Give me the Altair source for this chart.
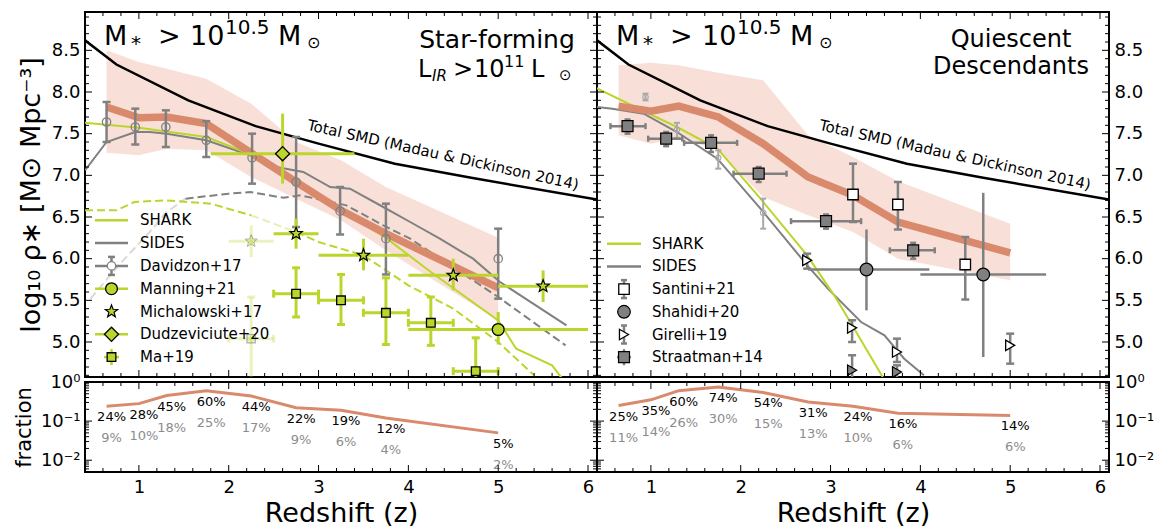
import altair as alt
import numpy as np
import pandas as pd

# ------------------------------------------------------------------ data
# Total stellar mass density (Madau & Dickinson 2014)
smd_z = [0.4, 0.75, 1.55, 2.3, 3.0, 3.85, 4.7, 6.1]
smd_v = [8.62, 8.33, 7.90, 7.59, 7.38, 7.14, 6.97, 6.71]

bin_z = [0.64, 1.0, 1.31, 1.75, 2.25, 2.75, 3.25, 3.75, 5.0]

# star-forming: SMD track and its band
sf_v = [7.82, 7.69, 7.70, 7.62, 7.27, 6.92, 6.58, 6.30, 5.65]
sf_lo = [7.27, 7.24, 7.32, 7.30, 6.98, 6.72, 6.46, 6.10, 5.26]
sf_hi = [8.50, 8.36, 8.28, 8.16, 7.86, 7.40, 7.18, 6.86, 6.25]
# quiescent descendants: SMD track and band
q_v = [7.83, 7.77, 7.83, 7.70, 7.38, 6.98, 6.76, 6.44, 6.07]
q_lo = [7.48, 7.38, 7.45, 7.30, 6.74, 6.52, 6.32, 6.00, 5.74]
q_hi = [8.32, 8.35, 8.32, 8.23, 8.14, 7.48, 7.22, 6.93, 6.42]

# models, left panel
shark_sf_z = [0.4, 1.0, 1.75, 2.25, 2.75, 3.25, 3.75, 4.25, 5.0, 5.2, 5.6, 5.72]
shark_sf_v = [7.63, 7.57, 7.46, 7.25, 6.92, 6.58, 6.25, 5.84, 5.26, 4.92, 4.72, 4.55]
sides_sf_z = [0.4, 0.64, 0.96, 1.12, 1.31, 1.75, 2.24, 2.53, 2.83, 3.13, 3.35, 3.72, 4.02,
              4.35, 4.72, 5.02, 5.76]
sides_sf_v = [7.06, 7.40, 7.52, 7.52, 7.50, 7.42, 7.24, 7.10, 7.04, 6.86, 6.84, 6.62, 6.44,
              6.24, 6.00, 5.72, 5.20]
sides_d_z = [0.46, 0.8, 1.12, 1.3, 1.52, 2.0, 2.24, 2.61, 2.8, 3.31, 3.72, 4.02, 5.0, 5.75]
sides_d_v = [5.52, 5.95, 6.32, 6.55, 6.72, 6.78, 6.80, 6.73, 6.76, 6.64, 6.40, 6.24, 5.54, 4.96]
shark_d_z = [0.4, 0.75, 0.95, 1.3, 1.8, 2.25, 2.75, 3.0, 3.5, 4.0, 4.5, 5.0, 5.4]
shark_d_v = [6.58, 6.58, 6.68, 6.70, 6.66, 6.52, 6.32, 6.20, 6.04, 5.68, 5.40, 5.00, 4.60]

# models, right panel
shark_q_z = [0.39, 0.94, 1.29, 1.74, 2.22, 2.74, 3.04, 3.22, 3.58]
shark_q_v = [8.05, 7.76, 7.58, 7.32, 6.72, 6.04, 5.56, 5.24, 4.58]
sides_q_z = [0.4, 0.57, 0.92, 1.29, 1.74, 2.22, 2.74, 2.97, 3.34, 3.6, 3.82, 4.04]
sides_q_v = [7.82, 7.80, 7.74, 7.52, 7.20, 6.60, 5.92, 5.64, 5.24, 5.08, 4.80, 4.60]

# observations, left panel
dav_z = [0.64, 0.96, 1.30, 1.75, 2.26, 2.75, 3.24, 3.75, 5.0]
dav_v = [7.64, 7.58, 7.58, 7.42, 7.21, 6.92, 6.57, 6.24, 6.00]
dav_lo = [7.40, 7.37, 7.34, 7.22, 6.90, 6.38, 6.29, 5.81, 5.52]
dav_hi = [7.88, 7.80, 7.78, 7.65, 7.50, 7.46, 6.86, 6.66, 6.36]

man_z, man_v = [5.0], [5.15]
man_zlo, man_zhi = [4.0], [6.0]
man_lo, man_hi = [4.97], [5.36]

mic_z = [2.75, 3.5, 4.5, 5.5]
mic_v = [6.30, 6.04, 5.80, 5.67]
mic_zlo = [2.5, 3.0, 4.0, 5.0]
mic_zhi = [3.0, 4.0, 5.0, 6.0]
mic_lo = [6.12, 5.86, 5.62, 5.48]
mic_hi = [6.48, 6.24, 6.00, 5.86]
mic_faint = dict(z=[2.25], v=[6.21], zlo=[2.0], zhi=[2.5], lo=[6.02], hi=[6.40])

dud_z, dud_v = [2.6], [7.26]
dud_zlo, dud_zhi = [1.8], [3.4]
dud_lo, dud_hi = [6.90], [7.74]

ma_z = [2.75, 3.25, 3.75, 4.25, 4.75]
ma_v = [5.58, 5.50, 5.35, 5.23, 4.65]
ma_zlo = [2.5, 3.0, 3.5, 4.0, 4.5]
ma_zhi = [3.0, 3.5, 4.0, 4.5, 5.0]
ma_lo = [5.30, 5.21, 4.97, 4.96, 4.40]
ma_hi = [5.89, 5.81, 5.77, 5.54, 5.05]
ma_faint = dict(z=[2.25], v=[5.04], zlo=[2.0], zhi=[2.5], lo=[4.40], hi=[5.54])

# observations, right panel
davq_z = [0.94, 1.29, 1.75, 2.25]
davq_v = [7.94, 7.55, 7.21, 6.55]
davq_lo = [7.90, 7.45, 7.08, 6.36]
davq_hi = [7.98, 7.63, 7.30, 6.72]

san_z = [3.25, 3.75, 4.5]
san_v = [6.77, 6.65, 5.93]
san_lo = [6.44, 6.35, 5.51]
san_hi = [7.14, 6.92, 6.26]

sha_z = [3.4, 4.7]
sha_v = [5.87, 5.81]
sha_zlo = [2.75, 4.0]
sha_zhi = [4.1, 5.4]
sha_lo = [5.38, 4.82]
sha_hi = [6.35, 6.79]

gir_z = [2.74, 3.24, 3.74, 5.0]
gir_v = [5.98, 5.17, 4.88, 4.96]
gir_lo = [5.88, 5.00, 4.76, 4.74]
gir_hi = [6.06, 5.26, 5.04, 5.10]
gir2_z = [3.24, 3.74]
gir2_v = [4.66, 4.64]
gir2_lo = [4.50, 4.50]
gir2_hi = [4.84, 4.72]

str_z = [0.74, 1.17, 1.67, 2.20, 2.95, 3.92]
str_v = [7.59, 7.44, 7.39, 7.02, 6.45, 6.10]
str_zlo = [0.55, 0.97, 1.37, 1.92, 2.56, 3.66]
str_zhi = [0.94, 1.35, 1.96, 2.51, 3.34, 4.16]
str_lo = [7.50, 7.35, 7.28, 6.92, 6.36, 6.00]
str_hi = [7.67, 7.52, 7.48, 7.10, 6.53, 6.19]

# fractions (percent)
sf_pct = [24, 28, 45, 60, 44, 22, 19, 12, 5]
sf_pct2 = [9, 10, 18, 25, 17, 9, 6, 4, 2]
q_pct = [25, 35, 60, 74, 54, 31, 24, 16, 14]
q_pct2 = [11, 14, 26, 30, 15, 13, 10, 6, 6]

legend_left = ["SHARK", "SIDES", "Davidzon+17", "Manning+21", "Michalowski+17",
               "Dudzeviciute+20", "Ma+19"]
legend_right = ["SHARK", "SIDES", "Santini+21", "Shahidi+20", "Girelli+19", "Straatman+14"]

x_ticks = [1, 2, 3, 4, 5, 6]
y_ticks = [5.0, 5.5, 6.0, 6.5, 7.0, 7.5, 8.0, 8.5]
f_ticks = [0.01, 0.1, 1.0]

# ------------------------------------------------------------------ style
FONT = "DejaVu Sans"
GREEN = "#bcd52c"
GRAY = "#808080"
LGRAY = "#a8a8a8"
ORANGE = "#d98a6c"
BAND = "#eba088"
W, H, HB = 512, 365, 90
XS = alt.Scale(domain=[0.4, 6.1], nice=False, zero=False)
YS = alt.Scale(domain=[4.58, 8.96], nice=False, zero=False)
FS = alt.Scale(type="log", domain=[0.005, 1.0], nice=False)
ONE = pd.DataFrame({"a": [0]})


def star_path():
    pts = []
    for k in range(10):
        r = 1.0 if k % 2 == 0 else 0.42
        a = np.deg2rad(-90 + 36 * k)
        pts.append(f"{r * np.cos(a):.3f},{r * np.sin(a):.3f}")
    return "M" + " L".join(pts) + " Z"


STAR = star_path()


def X(f="z"):
    return alt.X(f"{f}:Q", scale=XS, axis=None)


def Y(f="v", s=YS):
    return alt.Y(f"{f}:Q", scale=s, axis=None)


def line(z, v, color, sw=2.0, dash=None, opacity=1.0):
    kw = dict(color=color, strokeWidth=sw, opacity=opacity, clip=True)
    if dash:
        kw["strokeDash"] = dash
    return alt.Chart(pd.DataFrame({"z": z, "v": v})).mark_line(**kw).encode(x=X(), y=Y())


def band(z, lo, hi):
    return alt.Chart(pd.DataFrame({"z": z, "lo": lo, "hi": hi})).mark_area(
        color=BAND, opacity=0.33, clip=True).encode(x=X(), y=Y("lo"), y2="hi:Q")


def yerr(df, color, sw=2.5, cap=0, opacity=1.0):
    out = [alt.Chart(df).mark_rule(color=color, strokeWidth=sw, opacity=opacity, clip=True)
           .encode(x=X(), y=Y("lo"), y2="hi:Q")]
    if cap:
        for f in ("lo", "hi"):
            out.append(alt.Chart(df).mark_tick(color=color, orient="horizontal", size=cap,
                                               thickness=sw, opacity=opacity, clip=True)
                       .encode(x=X(), y=Y(f)))
    return out


def xerr(df, color, sw=2.5, cap=0, opacity=1.0):
    out = [alt.Chart(df).mark_rule(color=color, strokeWidth=sw, opacity=opacity, clip=True)
           .encode(x=X("zlo"), x2="zhi:Q", y=Y())]
    if cap:
        for f in ("zlo", "zhi"):
            out.append(alt.Chart(df).mark_tick(color=color, orient="vertical", size=cap,
                                               thickness=sw, opacity=opacity, clip=True)
                       .encode(x=X(f), y=Y()))
    return out


def pts(df, shape, size, fill, stroke, sw=1.2, opacity=1.0):
    return alt.Chart(df).mark_point(shape=shape, size=size, fill=fill, stroke=stroke,
                                    strokeWidth=sw, opacity=opacity, filled=True,
                                    clip=True).encode(x=X(), y=Y())


def ticks(ys, ymaj, ymin, h):
    xmin = [round(0.4 + 0.2 * i, 2) for i in range(1, 29) if abs((0.4 + 0.2 * i) % 1) > 1e-6
            and abs((0.4 + 0.2 * i) % 1 - 1) > 1e-6]
    out = []
    for vals, ln in ((x_ticks, 7), (xmin, 4)):
        b = alt.Chart(pd.DataFrame({"t": vals})).mark_rule(color="black", strokeWidth=1)
        out.append(b.encode(x=X("t"), y=alt.value(h), y2=alt.value(h - ln)))
        out.append(b.encode(x=X("t"), y=alt.value(0), y2=alt.value(ln)))
    for vals, ln in ((ymaj, 7), (ymin, 4)):
        b = alt.Chart(pd.DataFrame({"t": vals})).mark_rule(color="black", strokeWidth=1)
        out.append(b.encode(y=Y("t", ys), x=alt.value(0), x2=alt.value(ln)))
        out.append(b.encode(y=Y("t", ys), x=alt.value(W), x2=alt.value(W - ln)))
    return out


def txt(x, y, s, size, color="black", align="left", baseline="alphabetic", angle=0, italic=False):
    kw = dict(text=s, fontSize=size, font=FONT, color=color, align=align, baseline=baseline)
    if angle:
        kw["angle"] = angle
    if italic:
        kw["fontStyle"] = "italic"
    return alt.Chart(ONE).mark_text(**kw).encode(x=alt.value(x), y=alt.value(y))


def vpt(x, y, shape, size, fill, stroke, sw=1.2):
    return alt.Chart(ONE).mark_point(shape=shape, size=size, fill=fill, stroke=stroke,
                                     strokeWidth=sw, opacity=1, filled=True).encode(
        x=alt.value(x), y=alt.value(y))


def seg(x1, x2, y1, y2, color, sw):
    return alt.Chart(ONE).mark_rule(color=color, strokeWidth=sw).encode(
        x=alt.value(x1), x2=alt.value(x2), y=alt.value(y1), y2=alt.value(y2))


def mass_title():
    return [txt(19, 33, "M", 27), txt(46, 38, "*", 20), txt(73, 33, ">", 27),
            txt(105, 33, "10", 27), txt(140, 21.5, "10.5", 20), txt(193, 33, "M", 27),
            txt(222, 36, "⊙", 16)]


def smd_label():
    return txt(358, 143, "Total SMD (Madau & Dickinson 2014)", 15, align="center",
               baseline="middle", angle=12.5)


def panel(layers, h):
    return alt.layer(*layers).resolve_axis(x="independent", y="independent").properties(
        width=W, height=h)


ymin_top = [round(4.6 + 0.1 * i, 1) for i in range(0, 44)]
ymin_top = [v for v in ymin_top if abs(v * 2 - round(v * 2)) > 1e-6]
fmin = [m * 10.0 ** e for e in (-3, -2, -1) for m in range(2, 10) if m * 10.0 ** e >= 0.005]

# ------------------------------------------------------------------ top-left
df = lambda **k: pd.DataFrame(k)
ax_TL = alt.Chart(df(z=[1.0], v=[6.0])).mark_point(opacity=0).encode(
    x=X(),
    y=alt.Y("v:Q", scale=YS, axis=alt.Axis(
        values=y_ticks, format=".1f", ticks=False, domain=False, grid=False,
        labelFontSize=18, labelPadding=5, labelColor="black", labelFont=FONT,
        title="log₁₀ ρ∗ [M⊙ Mpc⁻³]", titleFontSize=27, titlePadding=6,
        titleFontWeight="normal", titleColor="black", titleFont=FONT)))

dav = df(z=dav_z, v=dav_v, lo=dav_lo, hi=dav_hi)
man = df(z=man_z, v=man_v, zlo=man_zlo, zhi=man_zhi, lo=man_lo, hi=man_hi)
mic = df(z=mic_z, v=mic_v, zlo=mic_zlo, zhi=mic_zhi, lo=mic_lo, hi=mic_hi)
micf = pd.DataFrame(mic_faint)
dud = df(z=dud_z, v=dud_v, zlo=dud_zlo, zhi=dud_zhi, lo=dud_lo, hi=dud_hi)
ma = df(z=ma_z, v=ma_v, zlo=ma_zlo, zhi=ma_zhi, lo=ma_lo, hi=ma_hi)
maf = pd.DataFrame(ma_faint)

L = [ax_TL, band(bin_z, sf_lo, sf_hi), line(smd_z, smd_v, "black", 2.5), smd_label(),
     line(sides_d_z[:5], sides_d_v[:5], GRAY, 2, [8, 4], 0.3),
     line(sides_d_z[4:], sides_d_v[4:], GRAY, 2, [8, 4]),
     line(shark_d_z[:6], shark_d_v[:6], GREEN, 2, [8, 4]),
     line(shark_d_z[5:7], shark_d_v[5:7], GREEN, 2, [8, 4], 0.35),
     line(shark_d_z[6:], shark_d_v[6:], GREEN, 2, [8, 4]),
     line(sides_sf_z, sides_sf_v, GRAY, 2), line(shark_sf_z, shark_sf_v, GREEN, 2),
     line(bin_z, sf_v, ORANGE, 7.5)]
L += yerr(micf, GREEN, 3, 0, 0.3) + xerr(micf, GREEN, 3, 0, 0.3)
L += [pts(micf, STAR, 170, GREEN, "black", 1, 0.3)]
L += yerr(maf, GREEN, 3, 8, 0.3) + xerr(maf, GREEN, 3, 8, 0.3)
L += [pts(maf, "square", 70, GREEN, "black", 1.2, 0.3)]
L += yerr(dav, GRAY, 2.5, 8) + [pts(dav, "circle", 70, "transparent", GRAY, 1.3)]
L += xerr(ma, GREEN, 3, 8) + yerr(ma, GREEN, 3, 8) + [pts(ma, "square", 75, GREEN, "black", 1.3)]
L += xerr(mic, GREEN, 3) + yerr(mic, GREEN, 3) + [pts(mic, STAR, 170, GREEN, "black", 1.2)]
L += xerr(man, GREEN, 3) + yerr(man, GREEN, 3) + [pts(man, "circle", 140, GREEN, "black", 1.3)]
L += xerr(dud, GREEN, 3) + yerr(dud, GREEN, 3) + [pts(dud, "diamond", 200, GREEN, "black", 1.3)]
L += mass_title()
L += [txt(412, 36, "Star-forming", 25, align="center"),
      txt(333, 65, "L", 24), txt(347, 68.5, "IR", 15, italic=True), txt(368, 65, ">", 24),
      txt(389, 65, "10", 24), txt(419, 55, "11", 16), txt(446, 65, "L", 24),
      txt(474, 68, "⊙", 15)]
# legend (left)
rows = [208.3 + 22.8 * i for i in range(len(legend_left))]
L += [seg(10, 43, rows[0], rows[0], GREEN, 2.5), seg(10, 43, rows[1], rows[1], GRAY, 2.5),
      seg(10, 43, rows[2], rows[2], GRAY, 2.5), seg(26.5, 26.5, rows[2] - 9, rows[2] + 9, GRAY, 2.5),
      seg(23, 30, rows[2] - 9, rows[2] - 9, GRAY, 2.5), seg(23, 30, rows[2] + 9, rows[2] + 9, GRAY, 2.5),
      vpt(26.5, rows[2], "circle", 70, "white", GRAY, 1.3),
      seg(10, 43, rows[3], rows[3], GREEN, 2.5), vpt(26.5, rows[3], "circle", 140, GREEN, "black", 1.3),
      vpt(26.5, rows[4], STAR, 170, GREEN, "black", 1.2),
      seg(10, 43, rows[5], rows[5], GREEN, 2.5), vpt(26.5, rows[5], "diamond", 200, GREEN, "black", 1.3),
      seg(26.5, 26.5, rows[6] - 8, rows[6] + 8, GREEN, 2.5), seg(19, 34, rows[6], rows[6], GREEN, 2.5),
      vpt(26.5, rows[6], "square", 75, GREEN, "black", 1.3)]
L += [txt(55, r, s, 15, baseline="middle") for r, s in zip(rows, legend_left)]
L += ticks(YS, y_ticks, ymin_top, H)
TL = panel(L, H)

# ------------------------------------------------------------------ top-right
ax_TR = alt.Chart(df(z=[1.0], v=[6.0])).mark_point(opacity=0).encode(
    x=X(),
    y=alt.Y("v:Q", scale=YS, axis=alt.Axis(
        orient="right", values=y_ticks, format=".1f", ticks=False, domain=False, grid=False,
        labelFontSize=18, labelPadding=5, labelColor="black", labelFont=FONT, title=None)))

davq = df(z=davq_z, v=davq_v, lo=davq_lo, hi=davq_hi)
san = df(z=san_z, v=san_v, lo=san_lo, hi=san_hi)
sha = df(z=sha_z, v=sha_v, zlo=sha_zlo, zhi=sha_zhi, lo=sha_lo, hi=sha_hi)
gir = df(z=gir_z, v=gir_v, lo=gir_lo, hi=gir_hi)
gir2 = df(z=gir2_z, v=gir2_v, lo=gir2_lo, hi=gir2_hi)
stra = df(z=str_z, v=str_v, zlo=str_zlo, zhi=str_zhi, lo=str_lo, hi=str_hi)

R = [ax_TR, band(bin_z, q_lo, q_hi), line(smd_z, smd_v, "black", 2.5), smd_label(),
     line(sides_q_z, sides_q_v, GRAY, 2), line(shark_q_z, shark_q_v, GREEN, 2),
     line(bin_z, q_v, ORANGE, 7.5)]
R += yerr(davq, LGRAY, 2, 6) + [pts(davq, "circle", 30, "transparent", LGRAY, 1.2)]
R += xerr(stra, GRAY, 2.5, 6) + yerr(stra, GRAY, 2.5, 6) + [pts(stra, "square", 120, GRAY, "black", 1.2)]
R += yerr(san, GRAY, 2.5, 8) + [pts(san, "square", 110, "white", "black", 1.3)]
R += xerr(sha, GRAY, 2.5) + yerr(sha, GRAY, 2.5) + [pts(sha, "circle", 160, GRAY, "black", 1.2)]
R += yerr(gir, GRAY, 2.5, 8) + [pts(gir, "triangle-right", 110, "white", "black", 1.3)]
R += yerr(gir2, GRAY, 2.5, 8) + [pts(gir2, "triangle-right", 110, GRAY, "black", 1.2)]
R += mass_title()
R += [txt(414, 35, "Quiescent", 24, align="center"),
      txt(414, 62, "Descendants", 24, align="center")]
rows = [231.7 + 22.7 * i for i in range(len(legend_right))]
R += [seg(10, 44, rows[0], rows[0], GREEN, 2.5), seg(10, 44, rows[1], rows[1], GRAY, 2.5),
      seg(27, 27, rows[2] - 9, rows[2] + 9, GRAY, 2.5),
      seg(24, 30, rows[2] - 9, rows[2] - 9, GRAY, 2.5), seg(24, 30, rows[2] + 9, rows[2] + 9, GRAY, 2.5),
      vpt(27, rows[2], "square", 110, "white", "black", 1.3),
      vpt(27, rows[3], "circle", 160, GRAY, "black", 1.2),
      seg(27, 27, rows[4] - 9, rows[4] + 9, GRAY, 2.5),
      seg(24, 30, rows[4] - 9, rows[4] - 9, GRAY, 2.5), seg(24, 30, rows[4] + 9, rows[4] + 9, GRAY, 2.5),
      vpt(27, rows[4], "triangle-right", 110, "white", "black", 1.3),
      seg(27, 27, rows[5] - 8, rows[5] + 8, GRAY, 2.5), seg(20, 34, rows[5], rows[5], GRAY, 2.5),
      vpt(27, rows[5], "square", 120, GRAY, "black", 1.2)]
R += [txt(55, r, s, 15, baseline="middle") for r, s in zip(rows, legend_right)]
R += ticks(YS, y_ticks, ymin_top, H)
TR = panel(R, H)


# ------------------------------------------------------------------ bottom panels
def bottom(pct, pct2, orient):
    d = df(z=bin_z, f=[p / 100 for p in pct], lab=[f"{p}%" for p in pct],
           lab2=[f"{p}%" for p in pct2])
    yax = alt.Axis(orient=orient, values=f_ticks, ticks=False, domain=False, grid=False,
                   labelExpr="datum.value >= 0.99 ? '10⁰' : datum.value >= 0.099 ? '10⁻¹' : '10⁻²'",
                   labelFontSize=18, labelPadding=5, labelColor="black", labelFont=FONT,
                   labelBaseline="middle",
                   title="fraction" if orient == "left" else None, titleFontSize=21,
                   titlePadding=6, titleFontWeight="normal", titleColor="black", titleFont=FONT)
    ax = alt.Chart(df(z=[1.0], f=[0.1])).mark_point(opacity=0).encode(
        x=alt.X("z:Q", scale=XS, axis=alt.Axis(
            values=x_ticks, format="d", ticks=False, domain=False, grid=False, labelFlush=False,
            labelFontSize=18, labelPadding=6, labelColor="black", labelFont=FONT,
            title="Redshift (z)", titleFontSize=27, titlePadding=4, titleFontWeight="normal",
            titleColor="black", titleFont=FONT)),
        y=alt.Y("f:Q", scale=FS, axis=yax))
    base = alt.Chart(d)
    lay = [ax,
           base.mark_line(color=ORANGE, strokeWidth=3, clip=True).encode(x=X(), y=Y("f", FS)),
           base.mark_text(font=FONT, fontSize=13, color="black", dy=11, dx=5).encode(
               x=X(), y=Y("f", FS), text="lab:N"),
           base.mark_text(font=FONT, fontSize=13, color="#8c8c8c", dy=32, dx=5).encode(
               x=X(), y=Y("f", FS), text="lab2:N")]
    lay += ticks(FS, [0.01, 0.1], fmin, HB)
    return panel(lay, HB)


BL = bottom(sf_pct, sf_pct2, "left")
BR = bottom(q_pct, q_pct2, "right")

chart = alt.concat(TL, TR, BL, BR, columns=2, spacing={"row": 5, "column": 0},
                   align="each", bounds="flush").properties(
    padding={"left": 12, "top": 10, "right": 5, "bottom": 2},
    background="white",
).configure_view(stroke="black", strokeWidth=2).configure_text(font=FONT)

chart.save("out.html", embed_options={"renderer": "svg", "actions": False})
